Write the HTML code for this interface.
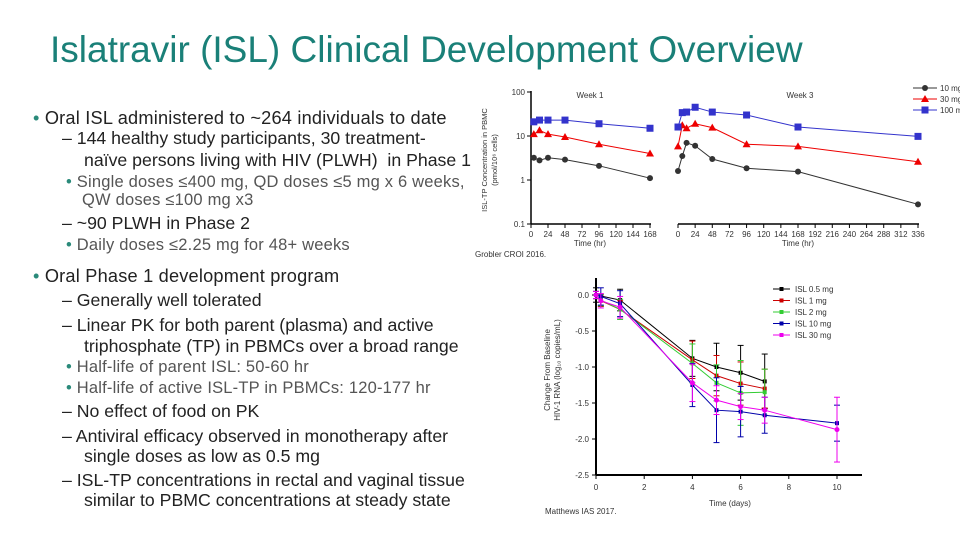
<!DOCTYPE html>
<html><head><meta charset="utf-8"><style>
body{margin:0;width:960px;height:540px;background:#fff;overflow:hidden;font-family:"Liberation Sans",sans-serif;position:relative}
.t{position:absolute;white-space:nowrap;line-height:1}
.l1{font-size:17.7px;color:#222}
.l3{font-size:16.5px;color:#555;letter-spacing:0.2px}
.b{color:#2a8a7a}
svg text{font-family:"Liberation Sans",sans-serif;fill:#333}
</style></head><body>
<div class="t" style="left:50px;top:31px;font-size:37px;color:#1a8078">Islatravir (ISL) Clinical Development Overview</div>
<div>
<div class="t l1" style="left:33px;top:109px;font-size:18.2px;letter-spacing:0.2px"><span class="b">•</span> Oral ISL administered to ~264 individuals to date</div>
<div class="t l1" style="left:62px;top:130px">– 144 healthy study participants, 30 treatment-</div>
<div class="t l1" style="left:84px;top:152px">naïve persons living with HIV (PLWH)&nbsp; in Phase 1</div>
<div class="t l3" style="left:66px;top:174px"><span class="b">•</span> Single doses ≤400 mg, QD doses ≤5 mg x 6 weeks,</div>
<div class="t l3" style="left:82px;top:192px">QW doses ≤100 mg x3</div>
<div class="t l1" style="left:62px;top:215px">– ~90 PLWH in Phase 2</div>
<div class="t l3" style="left:66px;top:237px"><span class="b">•</span> Daily doses ≤2.25 mg for 48+ weeks</div>
<div class="t l1" style="left:33px;top:267px;font-size:18.2px;letter-spacing:0.2px"><span class="b">•</span> Oral Phase 1 development program</div>
<div class="t l1" style="left:62px;top:292px">– Generally well tolerated</div>
<div class="t l1" style="left:62px;top:317px">– Linear PK for both parent (plasma) and active</div>
<div class="t l1" style="left:84px;top:338px">triphosphate (TP) in PBMCs over a broad range</div>
<div class="t l3" style="left:66px;top:359px"><span class="b">•</span> Half-life of parent ISL: 50-60 hr</div>
<div class="t l3" style="left:66px;top:380px"><span class="b">•</span> Half-life of active ISL-TP in PBMCs: 120-177 hr</div>
<div class="t l1" style="left:62px;top:403px">– No effect of food on PK</div>
<div class="t l1" style="left:62px;top:428px">– Antiviral efficacy observed in monotherapy after</div>
<div class="t l1" style="left:84px;top:448px">single doses as low as 0.5 mg</div>
<div class="t l1" style="left:62px;top:472px">– ISL-TP concentrations in rectal and vaginal tissue</div>
<div class="t l1" style="left:84px;top:492px">similar to PBMC concentrations at steady state</div>
</div>
<svg id="c" width="960" height="540" style="position:absolute;left:0;top:0"></svg>
<script>
// PK chart data
const pkDoses=["10 mg","30 mg","100 mg"];
const w1Times=[4,12,24,48,96,168];
const w1_10=[3.2,2.8,3.2,2.9,2.1,1.1];
const w1_30=[11,13.5,11,9.5,6.5,4];
const w1_100=[21,23,23,23,19,15];
const w3Times=[0,6,12,24,48,96,168,336];
const w3_10=[1.6,3.5,7,6,3,1.85,1.55,0.28];
const w3_30=[5.8,17.5,15,19,15.5,6.5,5.8,2.6];
const w3_100=[16,34,35,45,35,30,16,9.8];
const w1Ticks=[0,24,48,72,96,120,144,168];
const w3Ticks=[0,24,48,72,96,120,144,168,192,216,240,264,288,312,336];
const yTicks=[0.1,1,10,100];
// Viral load chart data
const vlDoses=["ISL 0.5 mg","ISL 1 mg","ISL 2 mg","ISL 10 mg","ISL 30 mg"];
const vlT05=[0,1,4,5,6,7];
const vl05=[0,-0.07,-0.88,-1.0,-1.08,-1.2];
const vlE05=[0.1,0.15,0.25,0.33,0.38,0.38];
const vlT1=[0,0.2,1,4,5,6,7];
const vl1=[0,-0.08,-0.2,-0.9,-1.12,-1.23,-1.3];
const vlE1=[0.05,0.08,0.12,0.26,0.28,0.3,0.27];
const vlT2=[0,0.2,1,4,5,6,7];
const vl2=[0,-0.07,-0.2,-0.95,-1.22,-1.36,-1.35];
const vlE2=[0.05,0.08,0.14,0.27,0.25,0.45,0.32];
const vlT10=[0,0.2,1,4,5,6,7,10];
const vl10=[0,-0.02,-0.12,-1.25,-1.6,-1.62,-1.67,-1.78];
const vlE10=[0.05,0.12,0.18,0.3,0.45,0.35,0.25,0.25];
const vlT30=[0,0.2,1,4,5,6,7,10];
const vl30=[0,-0.08,-0.17,-1.22,-1.46,-1.55,-1.6,-1.87];
const vlE30=[0.05,0.1,0.15,0.26,0.2,0.18,0.18,0.45];
const vlXTicks=[0,2,4,6,8,10];
const vlYTicks=[0,-0.5,-1,-1.5,-2,-2.5];

const svg=document.getElementById('c');const NS='http://www.w3.org/2000/svg';
function mk(tag,attrs,name,txt){const e=document.createElementNS(NS,tag);for(const k in attrs)e.setAttribute(k,attrs[k]);


if(txt!==undefined)e.textContent=txt;svg.appendChild(e);return e;}
const ly=v=>224-44*(Math.log10(v)+1);
const x1=t=>531+t*(650-531)/168;
const x3=t=>678+t*(918-678)/336;
mk('line',{x1:531,y1:91,x2:531,y2:224,stroke:'#000','stroke-width':1.5},'pk-y-axis');
mk('line',{x1:531,y1:224,x2:651,y2:224,stroke:'#000','stroke-width':1.5},'week1-x-axis');
mk('line',{x1:678,y1:224,x2:919,y2:224,stroke:'#000','stroke-width':1.5},'week3-x-axis');
yTicks.forEach(v=>{mk('line',{x1:527,y1:ly(v),x2:531,y2:ly(v),stroke:'#000'},'pk-y-tick');
mk('text',{x:525,y:ly(v)+3,'font-size':8,'text-anchor':'end'},'pk-y-label',v);});
w1Ticks.forEach(v=>{mk('line',{x1:x1(v),y1:224,x2:x1(v),y2:228,stroke:'#000'},'week1-x-tick');
mk('text',{x:x1(v),y:237,'font-size':8,'text-anchor':'middle'},'week1-x-label',v);});
w3Ticks.forEach(v=>{mk('line',{x1:x3(v),y1:224,x2:x3(v),y2:228,stroke:'#000'},'week3-x-tick');
mk('text',{x:x3(v),y:237,'font-size':8,'text-anchor':'middle'},'week3-x-label',v);});
mk('text',{x:590,y:246,'font-size':8,'text-anchor':'middle'},'week1-x-title','Time (hr)');
mk('text',{x:798,y:246,'font-size':8,'text-anchor':'middle'},'week3-x-title','Time (hr)');
mk('text',{x:590,y:98,'font-size':8,'text-anchor':'middle'},'week1-label','Week 1');
mk('text',{x:800,y:98,'font-size':8,'text-anchor':'middle'},'week3-label','Week 3');
mk('text',{x:475,y:257,'font-size':8},'pk-source','Grobler CROI 2016.');
mk('text',{transform:'translate(487,160) rotate(-90)','font-size':7.5,'text-anchor':'middle'},'pk-y-title','ISL-TP Concentration in PBMC');
mk('text',{transform:'translate(497,160) rotate(-90)','font-size':7.5,'text-anchor':'middle'},'pk-y-title-units','(pmol/10⁶ cells)');
const pkCols=['#333','#e00','#33c'];
function marker(x,y,i,col,name){
 if(i===0)mk('circle',{cx:x,cy:y,r:3,fill:col},name);
 else if(i===1)mk('polygon',{points:`${x},${y-4} ${x-4},${y+3} ${x+4},${y+3}`,fill:col},name);
 else mk('rect',{x:x-3.5,y:y-3.5,width:7,height:7,fill:col},name);}
function series(ts,vs,xf,i,name){
 mk('polyline',{points:ts.map((t,k)=>xf(t)+','+ly(vs[k])).join(' '),fill:'none',stroke:pkCols[i],'stroke-width':1},name+'-line');
 ts.forEach((t,k)=>marker(xf(t),ly(vs[k]),i,pkCols[i],name+'-point'));}
series(w1Times,w1_10,x1,0,'week1-10mg');series(w1Times,w1_30,x1,1,'week1-30mg');series(w1Times,w1_100,x1,2,'week1-100mg');
series(w3Times,w3_10,x3,0,'week3-10mg');series(w3Times,w3_30,x3,1,'week3-30mg');series(w3Times,w3_100,x3,2,'week3-100mg');
pkDoses.forEach((d,i)=>{const y=88+i*11;
 mk('line',{x1:913,y1:y,x2:937,y2:y,stroke:pkCols[i]},'pk-legend-line');marker(925,y,i,pkCols[i],'pk-legend-marker');
 mk('text',{x:940,y:y+3,'font-size':8},'pk-legend-label',d);});
const vx=t=>596+t*24.1;
const vy=v=>295-v*72;
mk('line',{x1:596,y1:278,x2:596,y2:475,stroke:'#000','stroke-width':2},'vl-y-axis');
mk('line',{x1:596,y1:475,x2:862,y2:475,stroke:'#000','stroke-width':2},'vl-x-axis');
vlYTicks.forEach(v=>{mk('line',{x1:592,y1:vy(v),x2:596,y2:vy(v),stroke:'#000'},'vl-y-tick');
mk('text',{x:589,y:vy(v)+3,'font-size':8,'text-anchor':'end'},'vl-y-label',v===0?'0.0':v.toFixed(1));});
vlXTicks.forEach(v=>{mk('line',{x1:vx(v),y1:475,x2:vx(v),y2:479,stroke:'#000'},'vl-x-tick');
mk('text',{x:vx(v),y:490,'font-size':8,'text-anchor':'middle'},'vl-x-label',v);});
mk('text',{x:730,y:506,'font-size':8,'text-anchor':'middle'},'vl-x-title','Time (days)');
mk('text',{x:545,y:514,'font-size':8},'vl-source','Matthews IAS 2017.');
mk('text',{transform:'translate(550,370) rotate(-90)','font-size':8,'text-anchor':'middle'},'vl-y-title','Change From Baseline');
mk('text',{transform:'translate(560,370) rotate(-90)','font-size':8,'text-anchor':'middle'},'vl-y-title-units','HIV-1 RNA (log₁₀ copies/mL)');
const vlCols=['#000','#c00','#3c3','#00a','#e0e'];
const vlSets=[[vlT05,vl05,vlE05],[vlT1,vl1,vlE1],[vlT2,vl2,vlE2],[vlT10,vl10,vlE10],[vlT30,vl30,vlE30]];
vlSets.forEach(([ts,vs,es],i)=>{const c=vlCols[i];
 ts.forEach((t,k)=>{const x=vx(t);
  mk('line',{x1:x,y1:vy(vs[k]+es[k]),x2:x,y2:vy(vs[k]-es[k]),stroke:c},'vl-error-bar');
  mk('line',{x1:x-3,y1:vy(vs[k]+es[k]),x2:x+3,y2:vy(vs[k]+es[k]),stroke:c},'vl-error-cap');
  mk('line',{x1:x-3,y1:vy(vs[k]-es[k]),x2:x+3,y2:vy(vs[k]-es[k]),stroke:c},'vl-error-cap');});
 mk('polyline',{points:ts.map((t,k)=>vx(t)+','+vy(vs[k])).join(' '),fill:'none',stroke:c},'vl-line-'+i);
 ts.forEach((t,k)=>{if(i===4)mk('circle',{cx:vx(t),cy:vy(vs[k]),r:2.5,fill:c},'vl-point');
  else mk('rect',{x:vx(t)-2,y:vy(vs[k])-2,width:4,height:4,fill:c},'vl-point');});
 const ly2=289+i*11.5;
 mk('line',{x1:773,y1:ly2,x2:790,y2:ly2,stroke:c},'vl-legend-line');
 mk('rect',{x:779.5,y:ly2-2,width:4,height:4,fill:c},'vl-legend-marker');
 mk('text',{x:795,y:ly2+3,'font-size':8},'vl-legend-label',vlDoses[i]);
});
</script>
</body></html>
